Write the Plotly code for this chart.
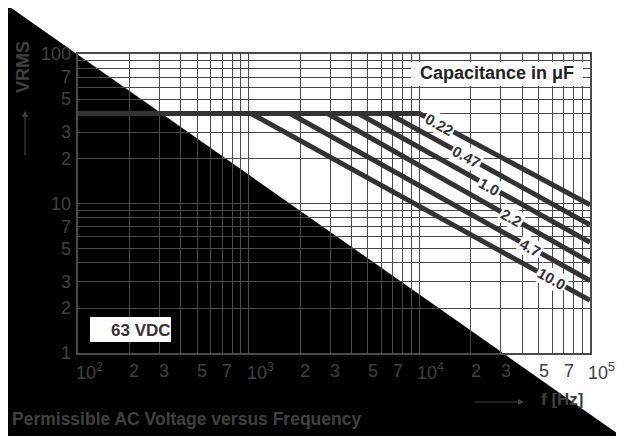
import plotly.graph_objects as go
import numpy as np

# ---------------- data ----------------
capacitances = ["0.22", "0.47", "1.0", "2.2", "4.7", "10.0"]
break_freq = [10000, 6600, 4400, 2900, 1750, 1030]      # Hz, end of 40 V plateau
end_voltage = [9.8, 7.2, 5.5, 4.05, 3.05, 2.25]          # VRMS at 100 kHz
label_freq = [13100, 18800, 25600, 34500, 44600, 59200]  # where the labels sit
v_max = 40
f_start = 100
f_end = 100000

y_tick_vals = [100, 70, 50, 30, 20, 10, 7, 5, 3, 2, 1]
y_tick_text = ["100", "7", "5", "3", "2", "10", "7", "5", "3", "2", "1"]
x_tick_vals = [100, 200, 300, 500, 700, 1000, 2000, 3000, 5000, 7000,
               10000, 20000, 30000, 50000, 70000, 100000]
x_tick_text = ["10<sup>2</sup>", "2", "3", "5", "7", "10<sup>3</sup>", "2", "3", "5", "7",
               "10<sup>4</sup>", "2", "3", "5", "7", "10<sup>5</sup>"]

# ---------------- layout geometry ----------------
OFF = 8  # page body margin
W, H = 624 - OFF, 439 - OFF
L, T = 78 - OFF, 54 - OFF
R, B = 34, 86
PW, PH = W - L - R, H - T - B


def px(x):
    """page pixel x -> paper coordinate"""
    return (x - OFF - L) / PW


def py(y):
    """page pixel y -> paper coordinate"""
    return 1 - (y - OFF - T) / PH


FONT = "Liberation Sans, Arial, Helvetica, sans-serif"
TXT = "#404040"
LINE = "#333333"

fig = go.Figure()

for cap, fb, ve in zip(capacitances, break_freq, end_voltage):
    fig.add_trace(go.Scatter(
        x=[f_start, fb, f_end], y=[v_max, v_max, ve],
        mode="lines", line=dict(color=LINE, width=5),
        hoverinfo="skip", showlegend=False))

annotations = []
# line labels
for cap, fb, ve, fl in zip(capacitances, break_freq, end_voltage, label_freq):
    t = (np.log10(fl) - np.log10(fb)) / (np.log10(f_end) - np.log10(fb))
    vl = 10 ** (np.log10(v_max) + t * (np.log10(ve) - np.log10(v_max)))
    annotations.append(dict(
        x=np.log10(fl), y=np.log10(vl), xref="x", yref="y",
        xanchor="center", yanchor="middle",
        text="<b>" + cap + "</b>", showarrow=False, textangle=29,
        font=dict(family=FONT, size=15, color=LINE),
        bgcolor="white", borderpad=1))

# y tick labels
for v, s in zip(y_tick_vals, y_tick_text):
    annotations.append(dict(
        x=px(73), y=np.log10(v), xref="paper", yref="y",
        xanchor="right", yanchor="middle", text=s, showarrow=False,
        font=dict(family=FONT, size=18, color=TXT)))

# x tick labels
for v, s in zip(x_tick_vals, x_tick_text):
    is_pow = s.startswith("10")
    annotations.append(dict(
        x=np.log10(v), y=py(371), xref="x", yref="paper",
        xanchor="left" if is_pow else "center", yanchor="middle",
        xshift=(-4 if is_pow else 5), text=s, showarrow=False,
        font=dict(family=FONT, size=18, color=TXT)))


def label(x, y, text, size, color=TXT, xanchor="center", angle=0):
    return dict(x=px(x), y=py(y), xref="paper", yref="paper", text=text,
                xanchor=xanchor, yanchor="middle", textangle=angle,
                showarrow=False, font=dict(family=FONT, size=size, color=color))


annotations += [
    label(23, 67, "<b>VRMS</b>", 18, angle=-90),
    dict(x=px(25), y=py(111), xref="paper", yref="paper", text="", showarrow=True,
         ax=0, ay=46, arrowhead=2, arrowsize=1, arrowwidth=1.2, arrowcolor=TXT),
    dict(x=px(524), y=py(402), xref="paper", yref="paper", text="", showarrow=True,
         ax=-51, ay=0, arrowhead=2, arrowsize=1, arrowwidth=1.2, arrowcolor=TXT),
    label(539, 400, "<b>f [Hz]</b>", 17, xanchor="left"),
    label(10, 419, "<b>Permissible AC Voltage versus Frequency</b>", 17.5, xanchor="left"),
    label(173, 330, "<b>63 VDC</b>", 17, color=LINE, xanchor="right"),
    label(497, 73, "<b>Capacitance in μF</b>", 18, color="#222"),
]

shapes = [
    # big black triangle
    dict(type="path", xref="paper", yref="paper", layer="below",
         path=f"M {px(7)},{py(5)} L {px(7)},{py(436)} L {px(621)},{py(436)} Z",
         fillcolor="black", line=dict(width=0)),
    # 63 VDC white box
    dict(type="rect", xref="paper", yref="paper", layer="above",
         x0=px(90), x1=px(171), y0=py(342), y1=py(317),
         fillcolor="white", line=dict(width=0)),
    # capacitance legend white box
    dict(type="rect", xref="paper", yref="paper", layer="above",
         x0=px(411), x1=px(583), y0=py(86), y1=py(62),
         fillcolor="white", line=dict(width=0)),
]

fig.update_layout(
    width=W, height=H,
    margin=dict(l=L, r=R, t=T, b=B, pad=0),
    paper_bgcolor="white", plot_bgcolor="rgba(0,0,0,0)",
    showlegend=False,
    annotations=annotations, shapes=shapes,
    xaxis=dict(type="log", range=[2, 5], dtick="D1", showticklabels=False,
               ticks="", showgrid=True, gridcolor="#4a4a4a", gridwidth=1,
               zeroline=False, showline=True, linecolor="#4a4a4a", linewidth=1.5,
               mirror=True),
    yaxis=dict(type="log", range=[0, 2], dtick="D1", showticklabels=False,
               ticks="", showgrid=True, gridcolor="#4a4a4a", gridwidth=1,
               zeroline=False, showline=True, linecolor="#4a4a4a", linewidth=1.5,
               mirror=True),
)

fig.write_html("out.html")
